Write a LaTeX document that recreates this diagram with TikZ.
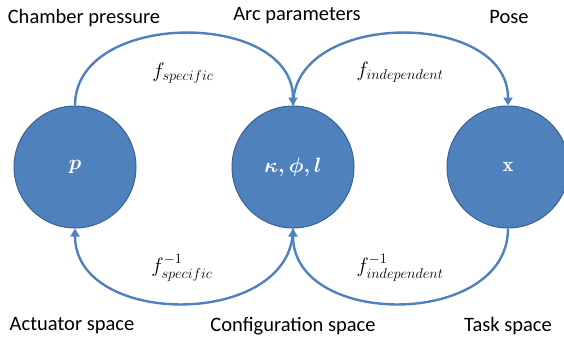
\documentclass[tikz,border=0pt]{standalone}
\usepackage{amsmath}
\usepackage{fontspec}
\setmainfont{Carlito}
\usetikzlibrary{arrows.meta}
\definecolor{blueA}{HTML}{4F81BD}
\definecolor{blueB}{HTML}{3A6291}
\begin{document}
\begin{tikzpicture}[x=1pt,y=-1pt,
  state/.style={circle,fill=blueA,draw=blueB,line width=1pt,minimum size=122pt,inner sep=0pt,text=white,font=\fontsize{20.5}{24}\selectfont},
  lab/.style={font=\fontsize{20.5}{24}\selectfont,text=black},
  flab/.style={font=\fontsize{21}{24}\selectfont,text=black},
  conn/.style={draw=blueA,line width=2.4pt,-{Triangle[length=8pt,width=9pt]}}]
\useasboundingbox (0,0) rectangle (564,338);
\node[state] (p) at (75,167) {$\boldsymbol{p}$};
\node[state] (k) at (293,167) {$\boldsymbol{\kappa,\phi,l}$};
\node[state] (x) at (508,167) {\fontfamily{lmr}\bfseries\selectfont x};
\node[lab] (t1) at (84,18) {Chamber pressure};
\node[lab] (t2) at (297,16) {Arc parameters};
\node[lab] (t3) at (509,17) {Pose};
\node[lab] (b1) at (72,326) {Actuator space};
\node[lab] (b2) at (293,326) {Configuration space};
\node[lab] (b3) at (508,326) {Task space};
\node[flab] (f1) at (183,73) {$f_{specific}$};
\node[flab] (f2) at (400,72) {$f_{independent}$};
\node[flab] (f3) at (182,268) {$f^{-1}_{specific}$};
\node[flab] (f4) at (400,268) {$f^{-1}_{independent}$};
\draw[conn] (p.north) .. controls +(0,-96) and +(0,-96) .. (k.north);
\draw[conn] (k.north) .. controls +(0,-96) and +(0,-96) .. (x.north);
\draw[conn] (k.south) .. controls +(0,100) and +(0,100) .. (p.south);
\draw[conn] (x.south) .. controls +(0,100) and +(0,100) .. (k.south);
\end{tikzpicture}
\end{document}
